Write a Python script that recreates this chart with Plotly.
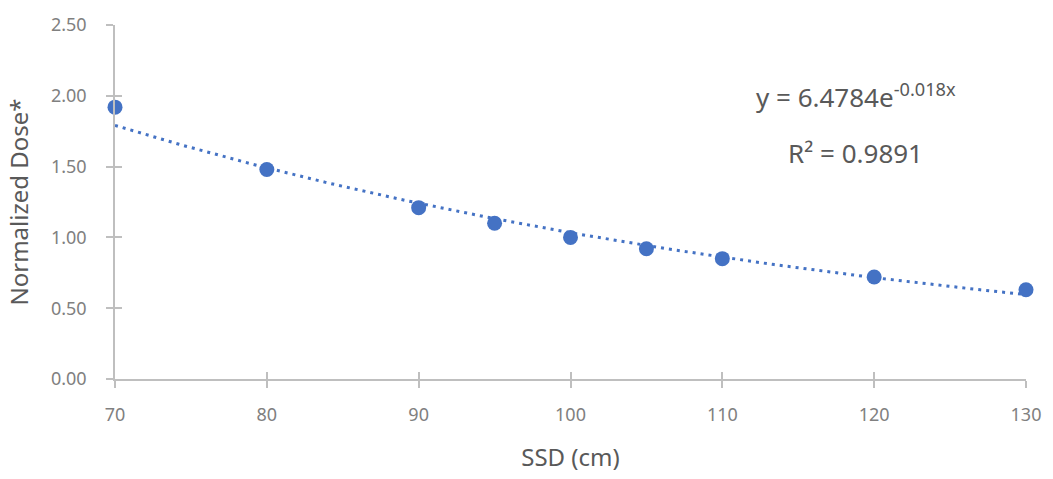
import numpy as np
import plotly.graph_objects as go

ssd = [70, 80, 90, 95, 100, 105, 110, 120, 130]
dose = [1.92, 1.48, 1.21, 1.10, 1.00, 0.92, 0.85, 0.72, 0.63]
x_ticks = [70, 80, 90, 100, 110, 120, 130]
y_ticks = [0, 0.5, 1.0, 1.5, 2.0, 2.5]
eq_text = "y = 6.4784e<sup>-0.018x</sup>"
r2_text = "R² = 0.9891"

# exponential trendline fitted to data (least squares on ln y)
b, ln_a = np.polyfit(ssd, np.log(dose), 1)
xt = np.linspace(min(ssd), max(ssd), 200)
yt = np.exp(ln_a) * np.exp(b * xt)

FONT = "Noto Sans"
BLUE = "#4472C4"
AXIS = "#BFBFBF"
TICKC = "#808080"
TITLEC = "#595959"

W, H = 1053, 479
L, R, T, B = 115, 24, 20, 99
pw, ph = W - L - R, H - T - B
def px(xp): return (xp - L) / pw
def py(yp): return (H - B - yp) / ph

fig = go.Figure()
fig.add_trace(go.Scatter(x=xt, y=yt, mode="lines",
                         line=dict(color=BLUE, width=3, dash="3px,5px"),
                         hoverinfo="skip", showlegend=False, cliponaxis=False))
fig.add_trace(go.Scatter(x=ssd, y=dose, mode="markers",
                         marker=dict(color=BLUE, size=15),
                         showlegend=False, cliponaxis=False))
# invisible trace to activate secondary axes (inside half of crossing ticks)
fig.add_trace(go.Scatter(x=[70], y=[0], xaxis="x2", yaxis="y2", mode="markers",
                         marker=dict(opacity=0), hoverinfo="skip", showlegend=False))

fig.update_layout(
    width=W, height=H,
    margin=dict(l=L, r=R, t=T, b=B),
    paper_bgcolor="white", plot_bgcolor="white",
    font=dict(family=FONT, color=TICKC),
    xaxis=dict(range=[70, 130], tickvals=x_ticks, ticks="outside", ticklen=7,
               tickcolor=AXIS, tickwidth=1.5, showline=True, linecolor=AXIS,
               linewidth=1.5, showgrid=False, zeroline=False,
               ticklabelstandoff=12,
               tickfont=dict(size=18, color=TICKC),
               title=dict(text="SSD (cm)", font=dict(size=24, color=TITLEC),
                          standoff=24)),
    yaxis=dict(range=[0, 2.5], tickvals=y_ticks, tickformat=".2f",
               ticks="outside", ticklen=7, tickcolor=AXIS, tickwidth=1.5,
               showline=True, linecolor=AXIS, linewidth=1.5, showgrid=False,
               zeroline=False, ticklabelstandoff=16,
               tickfont=dict(size=18, color=TICKC),
               title=dict(text="Normalized Dose*", font=dict(size=24, color=TITLEC),
                          standoff=16)),
    xaxis2=dict(range=[70, 130], tickvals=x_ticks, ticks="inside", ticklen=7,
                tickcolor=AXIS, tickwidth=1.5, showticklabels=False,
                showgrid=False, zeroline=False, overlaying="x", side="bottom",
                anchor="y"),
    yaxis2=dict(range=[0, 2.5], tickvals=y_ticks, ticks="inside", ticklen=7,
                tickcolor=AXIS, tickwidth=1.5, showticklabels=False,
                showgrid=False, zeroline=False, overlaying="y", side="left",
                anchor="x"),
)
fig.add_annotation(x=px(858), y=py(92), xref="paper", yref="paper",
                   xanchor="center", yanchor="middle",
                   text=eq_text, showarrow=False,
                   font=dict(size=26, color=TITLEC, family=FONT))
fig.add_annotation(x=px(858), y=py(150), xref="paper", yref="paper",
                   xanchor="center", yanchor="middle",
                   text=r2_text, showarrow=False,
                   font=dict(size=26, color=TITLEC, family=FONT))

fig.write_html("out.html")
